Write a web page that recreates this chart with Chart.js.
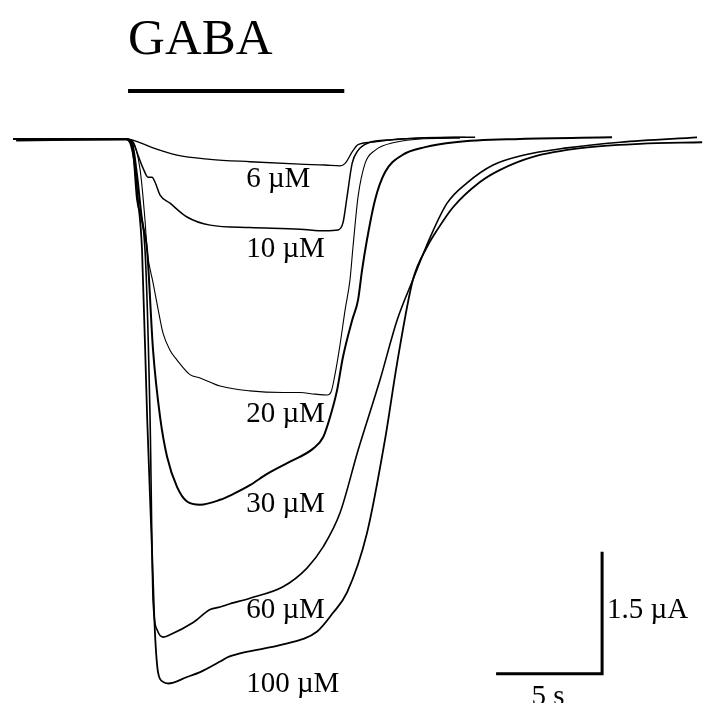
<!DOCTYPE html>
<html>
<head>
<meta charset="utf-8">
<script src="https://cdn.jsdelivr.net/npm/chart.js@4"></script>
<style>
  body { margin: 0; background: #fff; }
  #wrap { width: 703px; height: 703px; }
</style>
</head>
<body>
<div id="wrap"><canvas id="traces"></canvas></div>
<script>
// Current traces (time in s from GABA onset, current in uA, inward = negative)
const concLabels = ["6 µM", "10 µM", "20 µM", "30 µM", "60 µM", "100 µM"];

const t6 = [-5.42, -0.14, 0.19, 1.18, 2.31, 3.87, 5.75, 8.11, 9.29, 10.0, 10.24, 10.57, 10.85, 11.51, 12.83, 15.42, 15.90];
const i6 = [0, 0, -0.01, -0.11, -0.20, -0.25, -0.28, -0.31, -0.32, -0.33, -0.30, -0.16, -0.07, -0.04, 0, 0.02, 0.02];

const t10 = [-5.42, -0.09, 0.24, 0.47, 0.71, 0.94, 1.13, 1.27, 1.51, 1.98, 2.78, 3.87, 5.75, 8.11, 9.29, 9.91, 10.14, 10.33, 10.57, 10.85, 11.32, 12.45, 15.42, 16.37];
const i10 = [0, 0, -0.04, -0.20, -0.36, -0.47, -0.47, -0.53, -0.69, -0.79, -0.96, -1.06, -1.09, -1.11, -1.13, -1.12, -1.03, -0.71, -0.30, -0.14, -0.05, -0.01, 0.02, 0.02];

const t20 = [-5.42, -0.05, 0.24, 0.57, 0.80, 0.90, 1.18, 1.42, 1.65, 1.98, 2.31, 2.92, 3.40, 4.34, 5.75, 7.31, 8.11, 8.82, 9.39, 9.58, 9.76, 10.0, 10.24, 10.47, 10.61, 10.85, 11.18, 11.65, 12.45, 15.42, 15.66];
const i20 = [0, 0, -0.04, -0.38, -1.00, -1.37, -1.77, -2.10, -2.39, -2.60, -2.72, -2.90, -2.94, -3.04, -3.10, -3.12, -3.12, -3.14, -3.15, -3.11, -2.90, -2.53, -2.10, -1.73, -1.33, -0.71, -0.30, -0.14, -0.05, 0.01, 0.01];

const t30 = [-5.42, -0.09, 0.19, 0.42, 0.66, 0.90, 1.18, 1.51, 1.84, 2.31, 2.78, 3.40, 4.34, 4.95, 5.75, 6.56, 7.64, 8.73, 9.20, 9.53, 9.86, 10.14, 10.57, 10.85, 11.04, 11.27, 11.65, 12.12, 12.92, 14.01, 15.42, 18.49, 22.83];
const i30 = [0, 0, -0.05, -0.44, -1.00, -1.37, -2.60, -3.42, -3.91, -4.28, -4.46, -4.50, -4.44, -4.37, -4.26, -4.12, -3.97, -3.81, -3.67, -3.42, -3.09, -2.68, -2.23, -1.98, -1.61, -1.24, -0.75, -0.41, -0.20, -0.10, -0.04, 0, 0.02];

const t60 = [-5.28, -0.09, 0.19, 0.42, 0.80, 1.04, 1.18, 1.37, 1.65, 1.98, 3.07, 3.87, 4.34, 4.67, 5.75, 7.31, 8.44, 9.20, 10.0, 10.85, 11.89, 12.69, 13.44, 14.25, 15.05, 15.99, 17.22, 18.63, 20.71, 23.21, 26.84];
const i60 = [-0.02, -0.01, -0.07, -0.75, -1.37, -3.46, -5.67, -6.04, -6.13, -6.10, -5.95, -5.79, -5.76, -5.73, -5.65, -5.51, -5.28, -5.02, -4.60, -3.83, -2.96, -2.23, -1.73, -1.21, -0.79, -0.54, -0.32, -0.20, -0.11, -0.04, 0.02];

const t100 = [-5.42, -0.14, 0, 0.28, 0.47, 0.66, 0.90, 1.13, 1.27, 1.42, 1.65, 1.89, 2.78, 3.40, 4.34, 4.67, 5.42, 7.31, 8.92, 9.67, 10.33, 11.27, 12.12, 12.69, 13.44, 14.10, 14.58, 15.33, 16.60, 17.55, 19.10, 21.46, 24.15, 27.08];
const i100 = [0, 0, -0.01, -0.26, -0.75, -1.37, -3.42, -5.06, -6.08, -6.57, -6.68, -6.70, -6.62, -6.56, -6.43, -6.38, -6.32, -6.22, -6.06, -5.83, -5.58, -4.85, -3.70, -2.76, -1.73, -1.33, -1.12, -0.84, -0.53, -0.38, -0.22, -0.11, -0.06, -0.04];

// GABA application and scale bars
const gabaOn = [0, 10.2];
const scaleBarTime = 5;     // s
const scaleBarCurrent = 1.5; // uA

function toPoints(ts, is) {
  return ts.map((t, k) => ({ x: t, y: is[k] }));
}

const traceWidths = [1.3, 1.5, 1.1, 2, 1.6, 1.8];
const series = [[t6, i6], [t10, i10], [t20, i20], [t30, i30], [t60, i60], [t100, i100]];

const datasets = series.map((s, k) => ({
  label: concLabels[k],
  data: toPoints(s[0], s[1]),
  borderColor: '#000',
  borderWidth: traceWidths[k],
  pointRadius: 0,
  cubicInterpolationMode: 'monotone',
  fill: false
}));

// draws the GABA bar, scale bars and all the text
const figureExtras = {
  id: 'figureExtras',
  afterDatasetsDraw(chart) {
    const ctx = chart.ctx;
    const xs = chart.scales.x;
    const ys = chart.scales.y;
    const px = v => xs.getPixelForValue(v);
    const py = v => ys.getPixelForValue(v);

    ctx.save();
    ctx.strokeStyle = '#000';
    ctx.fillStyle = '#000';
    ctx.lineCap = 'butt';

    // GABA bar
    ctx.lineWidth = 4;
    ctx.beginPath();
    ctx.moveTo(px(gabaOn[0]), py(0.59));
    ctx.lineTo(px(gabaOn[1]), py(0.59));
    ctx.stroke();

    ctx.font = '51px "Liberation Serif", "Times New Roman", serif';
    ctx.textAlign = 'left';
    ctx.textBaseline = 'alphabetic';
    ctx.fillText('GABA', px(gabaOn[0]), 54);

    // scale bars
    const sbX0 = 17.36, sbY0 = -6.58;
    ctx.lineWidth = 3;
    ctx.beginPath();
    ctx.moveTo(px(sbX0), py(sbY0));
    ctx.lineTo(px(sbX0 + scaleBarTime), py(sbY0));
    ctx.lineTo(px(sbX0 + scaleBarTime), py(sbY0 + scaleBarCurrent));
    ctx.stroke();

    ctx.font = '29px "Liberation Serif", "Times New Roman", serif';
    ctx.fillText(scaleBarCurrent + ' µA', px(sbX0 + scaleBarTime) + 5, py(-5.90));
    ctx.textAlign = 'center';
    ctx.fillText(scaleBarTime + ' s', px(sbX0 + scaleBarTime / 2) - 1, py(sbY0) + 31);

    // concentration labels
    ctx.textAlign = 'left';
    const labelY = [-0.59, -1.45, -3.48, -4.59, -5.90, -6.80];
    concLabels.forEach((txt, k) => {
      ctx.fillText(txt, px(5.57), py(labelY[k]));
    });
    ctx.restore();
  }
};

new Chart(document.getElementById('traces'), {
  type: 'line',
  data: { datasets: datasets },
  options: {
    responsive: true,
    maintainAspectRatio: false,
    animation: false,
    devicePixelRatio: 1,
    layout: { padding: 0 },
    plugins: {
      legend: { display: false },
      title: { display: false },
      tooltip: { enabled: false }
    },
    scales: {
      x: { type: 'linear', display: false, min: -6.04, max: 27.12 },
      y: { type: 'linear', display: false, min: -6.94, max: 1.71 }
    }
  },
  plugins: [figureExtras]
});
</script>
</body>
</html>
